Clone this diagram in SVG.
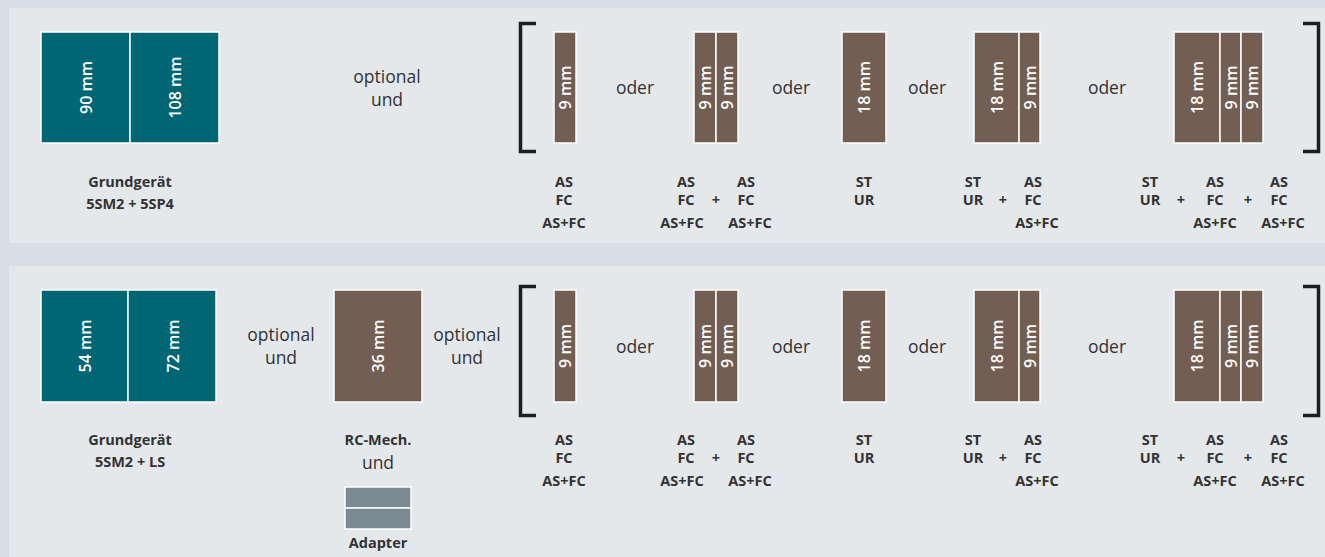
<svg xmlns="http://www.w3.org/2000/svg" width="1325" height="557" viewBox="0 0 1325 557">
<style>
.panel{fill:#e4e8eb}
.teal{fill:#006673;stroke:#fff;stroke-width:1.5}
.brown{fill:#725e52;stroke:#fff;stroke-width:1.5}
.gray{fill:#7b8a92;stroke:#fff;stroke-width:1.5}
.br{fill:none;stroke:#1e1e1e;stroke-width:3.5}
.w{font-family:"Open Sans","Noto Sans",sans-serif;font-size:16px;font-weight:600;fill:#fff;text-anchor:middle;dominant-baseline:central}
.r{font-family:"Open Sans","Noto Sans",sans-serif;font-size:17.5px;fill:#333;text-anchor:middle}
.b{font-family:"Open Sans","Noto Sans",sans-serif;font-size:14.5px;font-weight:700;fill:#333;text-anchor:middle}
</style>
<rect width="1325" height="557" fill="#d7dee4"/>
<rect class="panel" x="9" y="8" width="1316" height="235"/>
<rect class="panel" x="9" y="266" width="1316" height="291"/>

<g id="row1-base">
<rect class="teal" x="41" y="32" width="89" height="111"/>
<rect class="teal" x="130" y="32" width="89" height="111"/>
<text class="w" transform="translate(86,87.5) rotate(-90)">90 mm</text>
<text class="w" transform="translate(175,87.5) rotate(-90)">108 mm</text>
<text class="b" x="130" y="187">Grundgerät</text>
<text class="b" x="130" y="209">5SM2 + 5SP4</text>
</g>
<g id="row1-opt"><text class="r" x="387" y="83">optional</text><text class="r" x="387" y="106">und</text></g>

<g id="row1-bracket-l"><path class="br" d="M536,23.5 H520.5 V151.5 H536"/></g>
<g id="row1-bracket-r"><path class="br" d="M1303,23.5 H1318.5 V151.5 H1303"/></g>

<g id="row1-o1">
<rect class="brown" x="554" y="32" width="22" height="111"/>
<text class="w" transform="translate(565,87.5) rotate(-90)">9 mm</text>
<text class="b" x="564" y="187">AS</text><text class="b" x="564" y="205">FC</text><text class="b" x="564" y="228">AS+FC</text>
</g>
<text class="r" x="635" y="94">oder</text>
<g id="row1-o2">
<rect class="brown" x="694" y="32" width="22" height="111"/>
<rect class="brown" x="716" y="32" width="22" height="111"/>
<text class="w" transform="translate(705,87.5) rotate(-90)">9 mm</text>
<text class="w" transform="translate(727,87.5) rotate(-90)">9 mm</text>
<text class="b" x="686" y="187">AS</text><text class="b" x="686" y="205">FC</text><text class="b" x="682" y="228">AS+FC</text>
<text class="b" x="716" y="205">+</text>
<text class="b" x="746" y="187">AS</text><text class="b" x="746" y="205">FC</text><text class="b" x="750" y="228">AS+FC</text>
</g>
<text class="r" x="791" y="94">oder</text>
<g id="row1-o3">
<rect class="brown" x="842" y="32" width="44" height="111"/>
<text class="w" transform="translate(864,87.5) rotate(-90)">18 mm</text>
<text class="b" x="864" y="187">ST</text><text class="b" x="864" y="205">UR</text>
</g>
<text class="r" x="927" y="94">oder</text>
<g id="row1-o4">
<rect class="brown" x="974" y="32" width="45" height="111"/>
<rect class="brown" x="1019" y="32" width="21" height="111"/>
<text class="w" transform="translate(996.5,87.5) rotate(-90)">18 mm</text>
<text class="w" transform="translate(1029.5,87.5) rotate(-90)">9 mm</text>
<text class="b" x="973" y="187">ST</text><text class="b" x="973" y="205">UR</text>
<text class="b" x="1003" y="205">+</text>
<text class="b" x="1033" y="187">AS</text><text class="b" x="1033" y="205">FC</text><text class="b" x="1037" y="228">AS+FC</text>
</g>
<text class="r" x="1107" y="94">oder</text>
<g id="row1-o5">
<rect class="brown" x="1174" y="32" width="46" height="111"/>
<rect class="brown" x="1220" y="32" width="21" height="111"/>
<rect class="brown" x="1241" y="32" width="22" height="111"/>
<text class="w" transform="translate(1197,87.5) rotate(-90)">18 mm</text>
<text class="w" transform="translate(1230.5,87.5) rotate(-90)">9 mm</text>
<text class="w" transform="translate(1252,87.5) rotate(-90)">9 mm</text>
<text class="b" x="1150" y="187">ST</text><text class="b" x="1150" y="205">UR</text>
<text class="b" x="1181" y="205">+</text>
<text class="b" x="1215" y="187">AS</text><text class="b" x="1215" y="205">FC</text><text class="b" x="1215" y="228">AS+FC</text>
<text class="b" x="1248" y="205">+</text>
<text class="b" x="1279" y="187">AS</text><text class="b" x="1279" y="205">FC</text><text class="b" x="1283" y="228">AS+FC</text>
</g>

<g id="row2-base">
<rect class="teal" x="41" y="290" width="87" height="112"/>
<rect class="teal" x="128" y="290" width="88" height="112"/>
<text class="w" transform="translate(85,346) rotate(-90)">54 mm</text>
<text class="w" transform="translate(173,346) rotate(-90)">72 mm</text>
<text class="b" x="130" y="445">Grundgerät</text>
<text class="b" x="130" y="467">5SM2 + LS</text>
</g>
<g id="row2-opt1"><text class="r" x="281" y="341">optional</text><text class="r" x="281" y="364">und</text></g>
<g id="row2-rc">
<rect class="brown" x="334" y="290" width="88" height="112"/>
<text class="w" transform="translate(378,346) rotate(-90)">36 mm</text>
<text class="b" x="378" y="445">RC-Mech.</text>
<text class="r" x="378" y="469">und</text>
</g>
<g id="row2-adapter">
<rect class="gray" x="345" y="487" width="66" height="21"/>
<rect class="gray" x="345" y="508" width="66" height="21"/>
<text class="b" x="378" y="548">Adapter</text>
</g>
<g id="row2-opt2"><text class="r" x="467" y="341">optional</text><text class="r" x="467" y="364">und</text></g>

<g id="row2-bracket-l"><path class="br" d="M536,286.5 H520.5 V415.5 H536"/></g>
<g id="row2-bracket-r"><path class="br" d="M1303,286.5 H1318.5 V415.5 H1303"/></g>

<g id="row2-o1">
<rect class="brown" x="554" y="290" width="22" height="112"/>
<text class="w" transform="translate(565,346) rotate(-90)">9 mm</text>
<text class="b" x="564" y="445">AS</text><text class="b" x="564" y="463">FC</text><text class="b" x="564" y="486">AS+FC</text>
</g>
<text class="r" x="635" y="353">oder</text>
<g id="row2-o2">
<rect class="brown" x="694" y="290" width="22" height="112"/>
<rect class="brown" x="716" y="290" width="22" height="112"/>
<text class="w" transform="translate(705,346) rotate(-90)">9 mm</text>
<text class="w" transform="translate(727,346) rotate(-90)">9 mm</text>
<text class="b" x="686" y="445">AS</text><text class="b" x="686" y="463">FC</text><text class="b" x="682" y="486">AS+FC</text>
<text class="b" x="716" y="463">+</text>
<text class="b" x="746" y="445">AS</text><text class="b" x="746" y="463">FC</text><text class="b" x="750" y="486">AS+FC</text>
</g>
<text class="r" x="791" y="353">oder</text>
<g id="row2-o3">
<rect class="brown" x="842" y="290" width="44" height="112"/>
<text class="w" transform="translate(864,346) rotate(-90)">18 mm</text>
<text class="b" x="864" y="445">ST</text><text class="b" x="864" y="463">UR</text>
</g>
<text class="r" x="927" y="353">oder</text>
<g id="row2-o4">
<rect class="brown" x="974" y="290" width="45" height="112"/>
<rect class="brown" x="1019" y="290" width="21" height="112"/>
<text class="w" transform="translate(996.5,346) rotate(-90)">18 mm</text>
<text class="w" transform="translate(1029.5,346) rotate(-90)">9 mm</text>
<text class="b" x="973" y="445">ST</text><text class="b" x="973" y="463">UR</text>
<text class="b" x="1003" y="463">+</text>
<text class="b" x="1033" y="445">AS</text><text class="b" x="1033" y="463">FC</text><text class="b" x="1037" y="486">AS+FC</text>
</g>
<text class="r" x="1107" y="353">oder</text>
<g id="row2-o5">
<rect class="brown" x="1174" y="290" width="46" height="112"/>
<rect class="brown" x="1220" y="290" width="21" height="112"/>
<rect class="brown" x="1241" y="290" width="22" height="112"/>
<text class="w" transform="translate(1197,346) rotate(-90)">18 mm</text>
<text class="w" transform="translate(1230.5,346) rotate(-90)">9 mm</text>
<text class="w" transform="translate(1252,346) rotate(-90)">9 mm</text>
<text class="b" x="1150" y="445">ST</text><text class="b" x="1150" y="463">UR</text>
<text class="b" x="1181" y="463">+</text>
<text class="b" x="1215" y="445">AS</text><text class="b" x="1215" y="463">FC</text><text class="b" x="1215" y="486">AS+FC</text>
<text class="b" x="1248" y="463">+</text>
<text class="b" x="1279" y="445">AS</text><text class="b" x="1279" y="463">FC</text><text class="b" x="1283" y="486">AS+FC</text>
</g>
<g id="connectors"/>
</svg>
